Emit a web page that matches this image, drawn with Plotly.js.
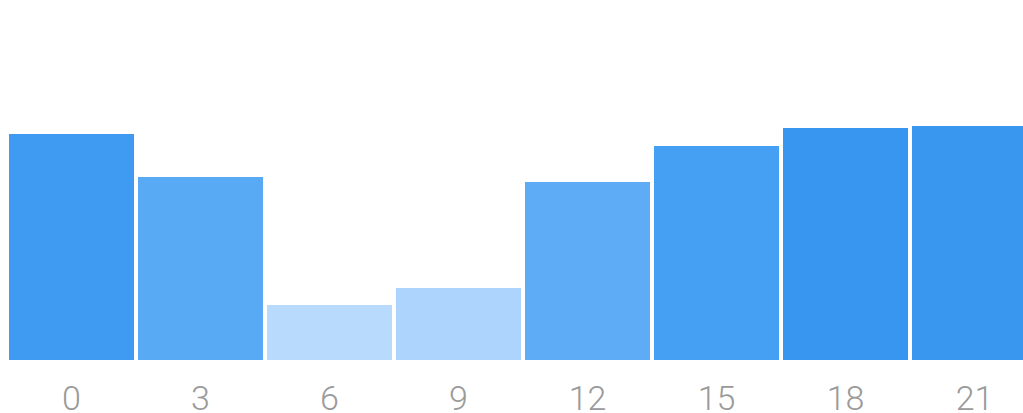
<!DOCTYPE html>
<html>
<head>
<meta charset="utf-8">
<script src="https://cdn.plot.ly/plotly-3.0.1.min.js"></script>
<style>html,body{margin:0;padding:0;background:#fff;}#chart{width:1023px;height:413px;}</style>
</head>
<body>
<div id="chart"></div>
<script>
const hours = [0, 3, 6, 9, 12, 15, 18, 21];
const values = [226, 183, 55, 72, 178, 214, 232, 234];
const tickLabels = ['0', '3', '6', '9', '12', '15', '18', '21'];
const barColors = ['#3f9bf1', '#59aaf5', '#b7dafd', '#acd4fd', '#5eacf6', '#45a0f3', '#3996f0', '#3a97f0'];

Plotly.newPlot('chart', [{
  type: 'bar',
  x: hours,
  y: values,
  marker: {color: barColors, line: {width: 0}},
  hoverinfo: 'none'
}], {
  width: 1023, height: 413,
  margin: {l: 0, r: 0, t: 100, b: 53, pad: 0},
  paper_bgcolor: '#fff', plot_bgcolor: '#fff',
  bargap: 0.031,
  showlegend: false,
  xaxis: {
    range: [-1.663, 22.128],
    tickvals: hours, ticktext: tickLabels,
    showgrid: false, zeroline: false, showline: false,
    ticks: '', ticklabelstandoff: 15,
    tickfont: {family: 'Roboto, "Open Sans", sans-serif', size: 34, color: '#9a9a9a', weight: 300}
  },
  yaxis: {range: [0, 260], visible: false, fixedrange: true}
}, {displayModeBar: false, staticPlot: true});
</script>
</body>
</html>
